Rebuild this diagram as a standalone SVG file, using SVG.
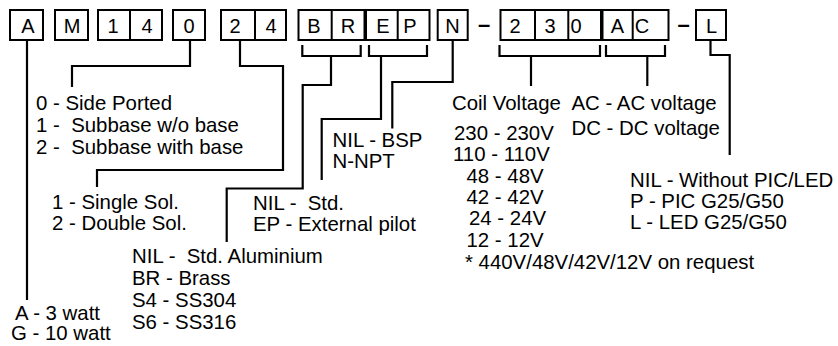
<svg xmlns="http://www.w3.org/2000/svg" width="838" height="346" viewBox="0 0 838 346">
<style>
  .box { fill: #fff; stroke: #000; stroke-width: 2; }
  .div { stroke: #000; stroke-width: 2; }
  .bl { font-family: "Liberation Sans", Arial, sans-serif; font-size: 20px; fill: #000; text-anchor: middle; }
  .dash { font-family: "Liberation Sans", Arial, sans-serif; font-size: 22px; font-weight: bold; fill: #000; text-anchor: middle; }
  .t { font-family: "Liberation Sans", Arial, sans-serif; font-size: 20.4px; fill: #000; white-space: pre; }
  .con { fill: none; stroke: #000; stroke-width: 2.2; }
</style>
<rect width="838" height="346" fill="#fff"/>

<g id="code-A"><rect class="box" x="10" y="10" width="33" height="30"/><text class="bl" x="28" y="32.5">A</text></g>
<g id="code-M"><rect class="box" x="55" y="10" width="33" height="30"/><text class="bl" x="72" y="32.5">M</text></g>
<g id="code-14"><rect class="box" x="98" y="10" width="64" height="30"/><line class="div" x1="130" y1="10" x2="130" y2="40"/><text class="bl" x="113" y="32.5">1</text><text class="bl" x="147" y="32.5">4</text></g>
<g id="code-0"><rect class="box" x="173" y="10" width="32" height="30"/><text class="bl" x="189" y="32.5">0</text></g>
<g id="code-24"><rect class="box" x="221" y="10" width="65" height="30"/><line class="div" x1="255" y1="10" x2="255" y2="40"/><text class="bl" x="235" y="32.5">2</text><text class="bl" x="271" y="32.5">4</text></g>
<g id="code-BR"><rect class="box" x="298.5" y="10" width="66" height="30"/><line class="div" x1="331.7" y1="10" x2="331.7" y2="40"/><text class="bl" x="314" y="32.5">B</text><text class="bl" x="348" y="32.5">R</text></g>
<g id="code-EP"><rect class="box" x="366" y="10" width="63.5" height="30"/><line class="div" x1="397.7" y1="10" x2="397.7" y2="40"/><text class="bl" x="383" y="32.5">E</text><text class="bl" x="410" y="32.5">P</text></g>
<g id="code-N"><rect class="box" x="437.7" y="10" width="30" height="30"/><text class="bl" x="452.5" y="32.5">N</text></g>
<g id="dash-1"><text class="dash" x="484" y="31.5">–</text></g>
<g id="code-230"><rect class="box" x="500.5" y="10" width="100.5" height="30"/><line class="div" x1="535" y1="10" x2="535" y2="40"/><line class="div" x1="568.3" y1="10" x2="568.3" y2="40"/><text class="bl" x="515" y="32.5">2</text><text class="bl" x="550" y="32.5">3</text><text class="bl" x="576" y="32.5">0</text></g>
<g id="code-AC"><rect class="box" x="602.5" y="10" width="66" height="30"/><line class="div" x1="632.7" y1="10" x2="632.7" y2="40"/><text class="bl" x="617.5" y="32.5">A</text><text class="bl" x="642" y="32.5">C</text></g>
<g id="dash-2"><text class="dash" x="683.7" y="31.5">–</text></g>
<g id="code-L"><rect class="box" x="696" y="10" width="30" height="30"/><text class="bl" x="711.5" y="32.5">L</text></g>

<g id="connectors">
  <path class="con" d="M27,41 V300"/>
  <path class="con" d="M190,41 V66 H72 V87"/>
  <path class="con" d="M240,41 V66 H283 V170 H97 V187"/>
  <path class="con" d="M302.3,45 V56 H360.7 V45"/>
  <path class="con" d="M331,56 V85 H302.7 V188.5 H226.7 V242"/>
  <path class="con" d="M369,45 V56 H427 V45"/>
  <path class="con" d="M381,56 V119 H321.7 V180"/>
  <path class="con" d="M452.7,41 V82 H392.3 V128.5"/>
  <path class="con" d="M499.5,45 V56 H600 V45"/>
  <path class="con" d="M531,56 V86"/>
  <path class="con" d="M606,45 V56 H665 V45"/>
  <path class="con" d="M647.3,56 V86"/>
  <path class="con" d="M710.5,41 V55 H729.7 V155"/>
</g>

<g id="label-port">
  <text class="t" x="36" y="110">0 - Side Ported</text>
  <text class="t" x="36" y="132">1 -  Subbase w/o base</text>
  <text class="t" x="36" y="154">2 -  Subbase with base</text>
</g>
<g id="label-sol">
  <text class="t" x="52" y="209">1 - Single Sol.</text>
  <text class="t" x="52" y="230">2 - Double Sol.</text>
</g>
<g id="label-material">
  <text class="t" x="132" y="263">NIL -  Std. Aluminium</text>
  <text class="t" x="132" y="285">BR - Brass</text>
  <text class="t" x="132" y="307">S4 - SS304</text>
  <text class="t" x="132" y="329">S6 - SS316</text>
</g>
<g id="label-watt">
  <text class="t" x="15" y="320">A - 3 watt</text>
  <text class="t" x="11" y="340">G - 10 watt</text>
</g>
<g id="label-pilot">
  <text class="t" x="253" y="210">NIL -  Std.</text>
  <text class="t" x="253" y="231">EP - External pilot</text>
</g>
<g id="label-thread">
  <text class="t" x="332.5" y="147">NIL - BSP</text>
  <text class="t" x="332.5" y="168">N-NPT</text>
</g>
<g id="label-voltage">
  <text class="t" x="452" y="110">Coil Voltage</text>
  <text class="t" x="454" y="140">230 - 230V</text>
  <text class="t" x="453" y="161">110 - 110V</text>
  <text class="t" x="466.5" y="183">48 - 48V</text>
  <text class="t" x="466.5" y="204">42 - 42V</text>
  <text class="t" x="469" y="225">24 - 24V</text>
  <text class="t" x="466.5" y="247">12 - 12V</text>
  <text class="t" x="465" y="269">* 440V/48V/42V/12V on request</text>
</g>
<g id="label-acdc">
  <text class="t" x="571.5" y="110">AC - AC voltage</text>
  <text class="t" x="571.5" y="135">DC - DC voltage</text>
</g>
<g id="label-led">
  <text class="t" x="630" y="187">NIL - Without PIC/LED</text>
  <text class="t" x="630" y="208">P - PIC G25/G50</text>
  <text class="t" x="630" y="229">L - LED G25/G50</text>
</g>
</svg>
